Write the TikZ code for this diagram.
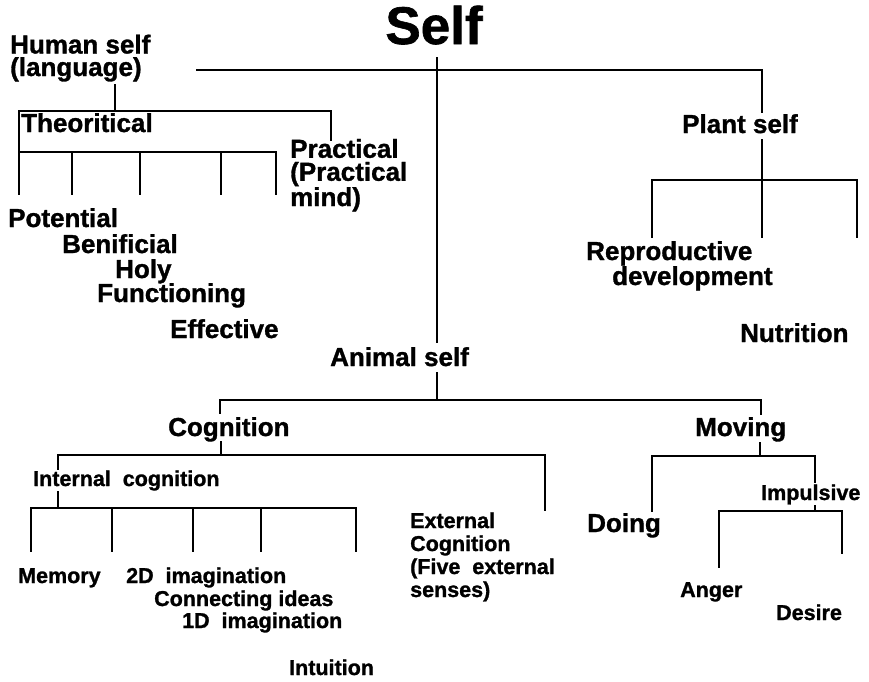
\documentclass[tikz,border=0pt]{standalone}
\usepackage{fontspec}
\setmainfont{Liberation Sans}[BoldFeatures={FakeBold=1.2}]
\begin{document}
\begin{tikzpicture}[x=1pt,y=-1pt,
  lbl/.style={font=\bfseries\fontsize{26}{23}\selectfont, anchor=base west, inner sep=0pt, align=left},
  sml/.style={font=\bfseries\fontsize{21.5}{23}\selectfont, anchor=base west, inner sep=0pt, align=left},
  ln/.style={line width=1.4pt, line cap=rect}]
\fill[white] (0,0) rectangle (869,681);
\useasboundingbox (0,0) rectangle (869,681);

% texts (multi-line nodes are placed by the baseline of their last line)
\node[font=\bfseries\fontsize{53}{60}\selectfont, anchor=base, inner sep=0pt] (self) at (434,44) {Self};
\node[lbl, font=\bfseries\fontsize{26}{22.5}\selectfont] (human) at (10,76) {Human self\\(language)};
\node[lbl] (theo) at (21,132) {Theoritical};
\node[lbl] (prac) at (290,206) {Practical\\(Practical\\mind)};
\node[lbl] (pot) at (8,227) {Potential};
\node[lbl] (ben) at (62,253) {Benificial};
\node[lbl] (holy) at (115,278) {Holy};
\node[lbl] (func) at (97,302) {Functioning};
\node[lbl] (eff) at (170,338) {Effective};
\node[lbl] (plant) at (682,133) {Plant self};
\node[lbl] (repro) at (586,260) {Reproductive};
\node[lbl] (devel) at (612,285) {development};
\node[lbl] (nutr) at (740,342) {Nutrition};
\node[lbl] (animal) at (330,366) {Animal self};
\node[lbl] (cogn) at (168,436) {Cognition};
\node[lbl] (moving) at (695,436) {Moving};
\node[lbl] (doing) at (587,532) {Doing};
\node[sml] (internal) at (33,486) {Internal\ \ cognition};
\node[sml] (impuls) at (761,500) {Impulsive};
\node[sml] (ext) at (410,597) {External\\Cognition\\(Five\ \ external\\senses)};
\node[sml] (memory) at (18,583) {Memory};
\node[sml] (img2) at (126,583) {2D\ \ imagination};
\node[sml] (conn) at (154,606) {Connecting ideas};
\node[sml] (img1) at (182,628) {1D\ \ imagination};
\node[sml] (intu) at (289,675) {Intuition};
\node[sml] (anger) at (680,597) {Anger};
\node[sml] (desire) at (776,620) {Desire};

% junction coordinates
\coordinate (s0) at (437,58);
\coordinate (s2) at (437,342);
\coordinate (hl) at (197,70);
\coordinate (hr) at (762,70);
\coordinate (p1) at (762,112);
\coordinate (p2) at (762,140);
\coordinate (p3) at (762,180);
\coordinate (pl) at (652,180);
\coordinate (pr) at (857,180);
\coordinate (pa) at (652,237);
\coordinate (pb) at (762,237);
\coordinate (pc) at (857,237);

\coordinate (h1) at (115,85);
\coordinate (h2) at (115,111);
\coordinate (tl) at (19,111);
\coordinate (tr) at (331,111);
\coordinate (tr2) at (331,140);
\coordinate (tc) at (19,152);
\coordinate (tcr) at (276,152);
\foreach \i/\x in {1/19,2/72,3/140,4/221,5/276}{
  \coordinate (ta\i) at (\x,152);
  \coordinate (tb\i) at (\x,194);
}

\coordinate (a1) at (437,373);
\coordinate (a2) at (437,400);
\coordinate (al) at (220,400);
\coordinate (al2) at (220,413);
\coordinate (ar) at (761,400);
\coordinate (ar2) at (761,414);

\coordinate (c1) at (221,442);
\coordinate (c2) at (221,455);
\coordinate (cl) at (58,455);
\coordinate (cl2) at (58,469);
\coordinate (cr) at (545,455);
\coordinate (cr2) at (545,510);

\coordinate (i1) at (58,492);
\coordinate (i2) at (58,508);
\foreach \i/\x in {1/31,2/112,3/193,4/261,5/356}{
  \coordinate (ia\i) at (\x,508);
  \coordinate (ib\i) at (\x,551);
}

\coordinate (m1) at (760,443);
\coordinate (m2) at (760,456);
\coordinate (ml) at (652,456);
\coordinate (ml2) at (652,511);
\coordinate (mr) at (815,456);
\coordinate (mr2) at (815,482);

\coordinate (u1) at (815,506);
\coordinate (u2) at (815,511);
\coordinate (ul) at (719,511);
\coordinate (ul2) at (719,567);
\coordinate (ur) at (842,511);
\coordinate (ur2) at (842,553);

% connectors
\draw[ln] (s0) -- (s2);
\draw[ln] (hl) -- (hr) -- (p1);
\draw[ln] (p2) -- (p3);
\draw[ln] (pa) -- (pl) -- (pr) -- (pc);
\draw[ln] (p3) -- (pb);

\draw[ln] (h1) -- (h2);
\draw[ln] (tb1) -- (tl) -- (tr) -- (tr2);
\draw[ln] (tc) -- (tcr);
\foreach \i in {2,...,5}{ \draw[ln] (ta\i) -- (tb\i); }

\draw[ln] (a1) -- (a2);
\draw[ln] (al2) -- (al) -- (ar) -- (ar2);

\draw[ln] (c1) -- (c2);
\draw[ln] (cl2) -- (cl) -- (cr) -- (cr2);

\draw[ln] (i1) -- (i2);
\draw[ln] (ia1) -- (ia5);
\foreach \i in {1,...,5}{ \draw[ln] (ia\i) -- (ib\i); }

\draw[ln] (m1) -- (m2);
\draw[ln] (ml2) -- (ml) -- (mr) -- (mr2);

\draw[ln] (u1) -- (u2);
\draw[ln] (ul2) -- (ul) -- (ur) -- (ur2);
\end{tikzpicture}
\end{document}
